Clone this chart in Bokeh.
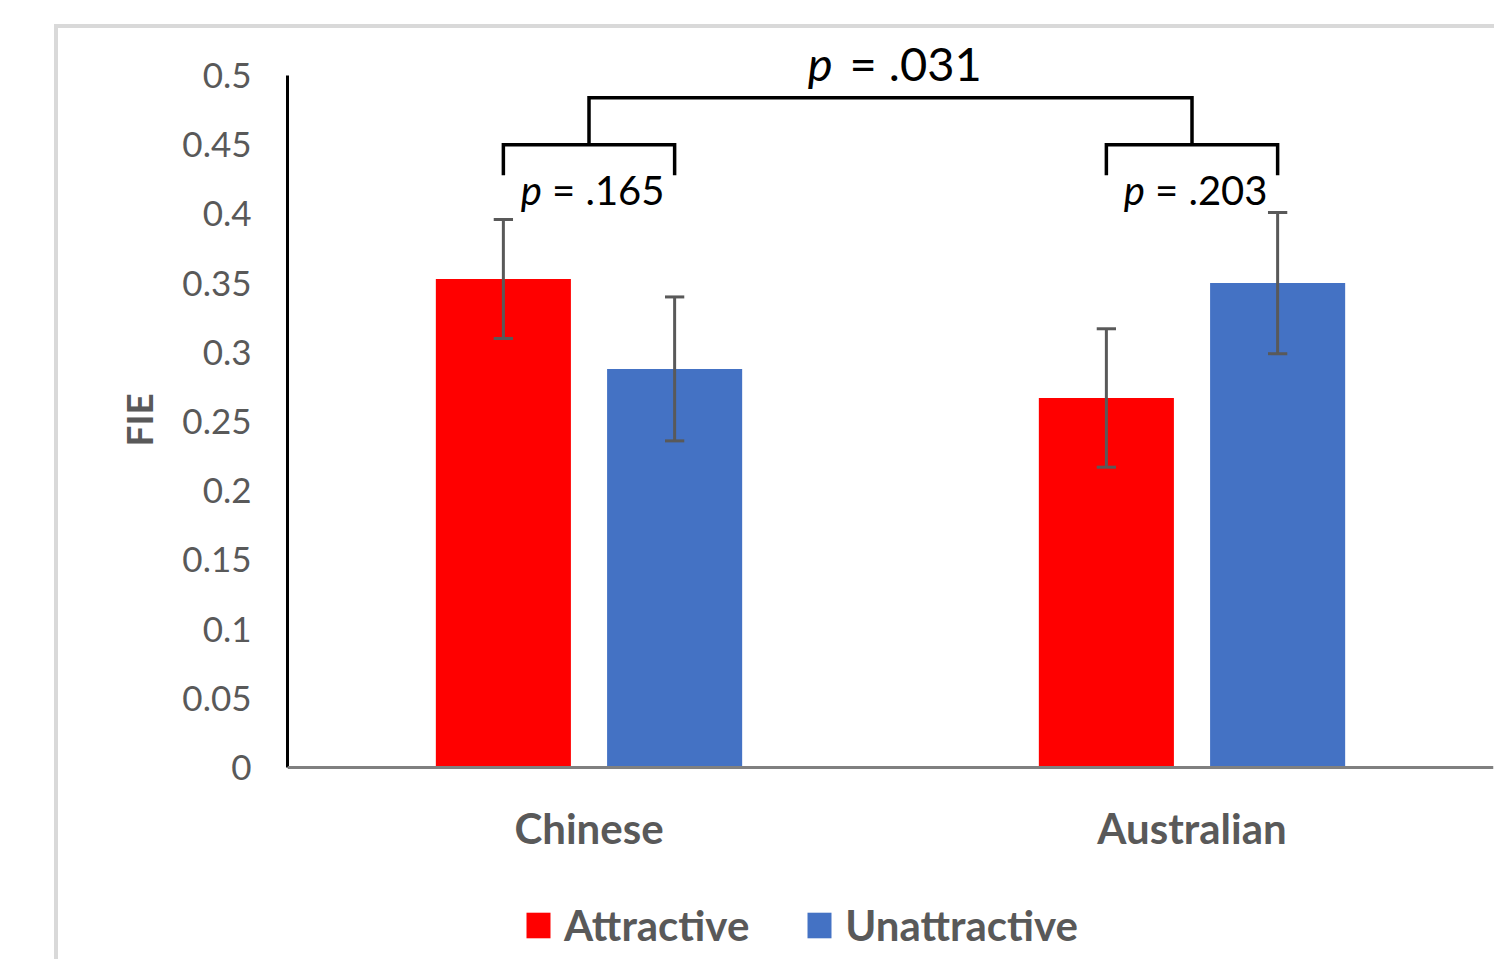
from bokeh.plotting import figure
from bokeh.models import Range1d, FixedTicker, Legend, Span, Title
from bokeh.core.properties import value
from bokeh.embed import file_html
from bokeh.resources import INLINE

# ---------------- data ----------------
groups = ["Chinese", "Australian"]
series = ["Attractive", "Unattractive"]
attractive = [0.353, 0.267]
unattractive = [0.288, 0.350]
attractive_err = [0.043, 0.050]
unattractive_err = [0.052, 0.051]
within_p = [".165", ".203"]
between_p = ".031"
y_title = "FIE"
y_ticks = [0, 0.05, 0.1, 0.15, 0.2, 0.25, 0.3, 0.35, 0.4, 0.45, 0.5]
y_tick_labels = ["0", "0.05", "0.1", "0.15", "0.2", "0.25", "0.3", "0.35", "0.4", "0.45", "0.5"]

# ---------------- layout / style constants ----------------
FONT = "Lato"
GRAY = "#595959"
RED = "#ff0000"
BLUE = "#4472c4"
OFFSET = 0.142      # bar centre offset from group centre (category units)
BAR_W = 0.224
CAP_HW = 0.016
BRACKET_Y = 0.450
LEG_Y = 0.428
TOP_Y = 0.484
LABEL_Y = 0.4176
TOP_LABEL_Y = 0.509
CAT_LABEL_Y = -0.0434

centers = [i + 0.5 for i in range(len(groups))]
x_attr = [c - OFFSET for c in centers]
x_unattr = [c + OFFSET for c in centers]

p = figure(width=1440, height=935,
           x_range=Range1d(0, 2), y_range=Range1d(-0.1387, 0.526),
           x_axis_location=None,
           output_backend="svg", toolbar_location=None,
           min_border_left=229, min_border_right=5,
           min_border_top=11, min_border_bottom=4,
           outline_line_color=None, background_fill_color="white",
           border_fill_color="white")
p.styles = {"margin-left": "54px", "margin-top": "24px",
            "border-left": "4px solid #d9d9d9", "border-top": "4px solid #d9d9d9"}
p.grid.visible = False

# y axis
p.yaxis.ticker = FixedTicker(ticks=y_ticks)
p.yaxis.major_label_overrides = dict(zip(y_ticks, y_tick_labels))
p.yaxis.bounds = (0, 0.5)
p.yaxis.axis_line_color = "black"
p.yaxis.axis_line_width = 3
p.yaxis.major_tick_line_color = None
p.yaxis.minor_tick_line_color = None
p.yaxis.major_label_text_font = FONT
p.yaxis.major_label_text_font_size = "35px"
p.yaxis.major_label_text_color = GRAY
p.yaxis.major_label_standoff = 30

# y axis title, centred on the 0-0.5 part of the axis
p.add_layout(Title(text=y_title, align="left", offset=513, standoff=37,
                   text_font=FONT, text_font_size="37px", text_font_style="bold",
                   text_color=GRAY), "left")

# x axis baseline and category labels
p.add_layout(Span(location=0, dimension="width", line_color="#808080", line_width=3))
p.text(x=centers, y=[CAT_LABEL_Y] * len(centers), text=groups,
       text_align="center", text_baseline="alphabetic",
       text_font=value(FONT), text_font_style="bold", text_font_size="42px",
       text_color=GRAY)

# bars
r1 = p.vbar(x=x_attr, top=attractive, width=BAR_W, bottom=0,
            fill_color=RED, line_color=None)
r2 = p.vbar(x=x_unattr, top=unattractive, width=BAR_W, bottom=0,
            fill_color=BLUE, line_color=None)

# error bars
def error_bars(xs, ys, errs):
    lo = [y - e for y, e in zip(ys, errs)]
    hi = [y + e for y, e in zip(ys, errs)]
    p.segment(x0=xs, y0=lo, x1=xs, y1=hi, line_color=GRAY, line_width=3)
    p.segment(x0=[x - CAP_HW for x in xs], y0=lo, x1=[x + CAP_HW for x in xs], y1=lo,
              line_color=GRAY, line_width=3)
    p.segment(x0=[x - CAP_HW for x in xs], y0=hi, x1=[x + CAP_HW for x in xs], y1=hi,
              line_color=GRAY, line_width=3)

error_bars(x_attr, attractive, attractive_err)
error_bars(x_unattr, unattractive, unattractive_err)

# significance brackets
xs_br, ys_br = [], []
for xa, xu in zip(x_attr, x_unattr):
    xs_br.append([xa, xa, xu, xu])
    ys_br.append([LEG_Y, BRACKET_Y, BRACKET_Y, LEG_Y])
xs_br.append([centers[0], centers[0], centers[1], centers[1]])
ys_br.append([BRACKET_Y, TOP_Y, TOP_Y, BRACKET_Y])
p.multi_line(xs=xs_br, ys=ys_br, line_color="black", line_width=3.5,
             line_join="miter", line_cap="butt")

# p-value texts (italic p + rest)
mid_within = [(xa + xu) / 2 for xa, xu in zip(x_attr, x_unattr)]
n = len(mid_within)
p.text(x=mid_within, y=[LABEL_Y] * n, text=["p"] * n,
       x_offset=-47, text_align="right", text_baseline="alphabetic",
       text_font=value(FONT), text_font_style="italic", text_font_size="40px",
       text_color="black")
p.text(x=mid_within, y=[LABEL_Y] * n, text=["= " + v for v in within_p],
       x_offset=-37, text_align="left", text_baseline="alphabetic",
       text_font=value(FONT), text_font_size="40px", text_color="black")
mid_between = (centers[0] + centers[1]) / 2
p.text(x=[mid_between], y=[TOP_LABEL_Y], text=["p"],
       x_offset=-58, text_align="right", text_baseline="alphabetic",
       text_font=value(FONT), text_font_style="italic", text_font_size="47px",
       text_color="black")
p.text(x=[mid_between], y=[TOP_LABEL_Y], text=["= " + between_p],
       x_offset=-41, text_align="left", text_baseline="alphabetic",
       text_font=value(FONT), text_font_size="47px", text_color="black")

# legend
legend = Legend(items=[(series[0], [r1]), (series[1], [r2])],
                orientation="horizontal", location=(236, 9),
                glyph_width=30, glyph_height=32, label_standoff=11, spacing=55,
                padding=0, margin=0, border_line_color=None,
                background_fill_alpha=0,
                label_text_font=FONT, label_text_font_size="42px",
                label_text_font_style="bold", label_text_color=GRAY)
p.add_layout(legend, "center")

open("out.html", "w").write(file_html(p, INLINE))
